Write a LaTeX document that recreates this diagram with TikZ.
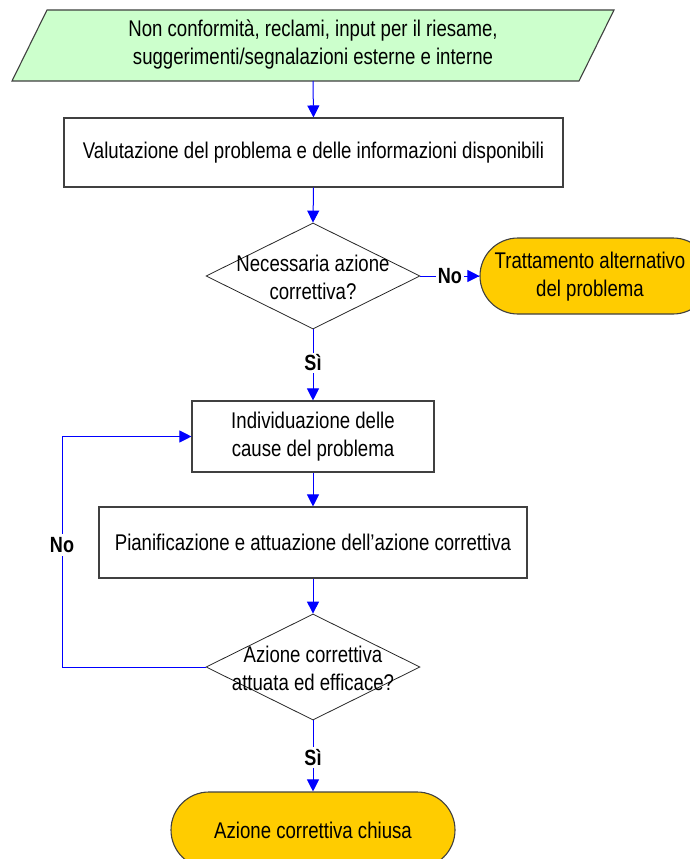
\documentclass[tikz,border=0pt]{standalone}
\usepackage{fontspec}
\setmainfont[FakeStretch=0.82]{Liberation Sans}
\usetikzlibrary{arrows.meta,shapes.geometric}
\definecolor{inputgreen}{HTML}{CCFFCC}
\definecolor{termgold}{HTML}{FFCC00}
\begin{document}
\begin{tikzpicture}[x=1pt,y=-1pt,
  font=\fontsize{22.7}{28}\selectfont,
  flow/.style={draw=blue, line width=1pt, -{Triangle[length=12pt,width=12pt]}},
  link/.style={draw=blue, line width=1pt},
  outline/.style={draw=black!75, line width=1.1pt},
  procbox/.style={outline, fill=white, align=center, inner sep=0pt},
  decision/.style={diamond, draw=black!85, line width=0.8pt, inner sep=0pt,
    minimum width=214pt, minimum height=106pt},
  terminal/.style={outline, fill=termgold, align=center, inner sep=0pt,
    rounded corners=38pt, minimum height=76pt},
  plain/.style={align=center, inner sep=0pt},
  answer/.style={font=\fontsize{22}{27}\selectfont\bfseries, fill=white, inner sep=2pt}
]
\useasboundingbox (0,0) rectangle (689,859);

% input parallelogram
\coordinate (inTL) at (47,10);
\coordinate (inTR) at (614,10);
\coordinate (inBR) at (579,81);
\coordinate (inBL) at (12,81);
\filldraw[outline, fill=inputgreen] (inTL) -- (inTR) -- (inBR) -- (inBL) -- cycle;
\node[plain, minimum height=71pt] (input) at (313,44.5)
  {Non conformità, reclami, input per il riesame,\\suggerimenti/segnalazioni esterne e interne};

% process steps
\node[procbox, minimum width=499pt, minimum height=69pt] (valuta) at (313.5,152.5)
  {Valutazione del problema e delle informazioni disponibili};

\node[decision] (dec1) at (313,276) {};
\node[plain] (dec1txt) at (313,277) {Necessaria azione\\correttiva?};

\node[terminal, minimum width=231pt] (altro) at (595.5,276) {};
\node[plain] (altrotxt) at (590,277) {Trattamento alternativo\\del problema};

\node[procbox, minimum width=242pt, minimum height=71pt] (cause) at (313,436.5)
  {Individuazione delle\\cause del problema};

\node[procbox, minimum width=428pt, minimum height=71pt] (piano) at (313,542.5)
  {Pianificazione e attuazione dell’azione correttiva};

\node[decision] (dec2) at (313,667) {};
\node[plain] (dec2txt) at (313,668) {Azione correttiva\\attuata ed efficace?};

\node[terminal, minimum width=284pt] (chiusa) at (313,830) {Azione correttiva chiusa};

% connectors
\draw[flow] (inBL -| input.south) -- (valuta.north);
\draw[flow] (valuta.south) -- (dec1.north);
\draw[link] (dec1.east) -- node[answer, pos=0.5] (no1) {No} (altro.west);
\draw[flow] (no1.east) -- (altro.west);
\draw[flow] (dec1.south) -- node[answer, pos=0.47] (si1) {Sì} (cause.north);
\draw[flow] (cause.south) -- (piano.north);
\draw[flow] (piano.south) -- (dec2.north);
\coordinate (loopB) at (62,667);
\coordinate (loopT) at (62,436.5);
\draw[link] (dec2.west) -- (loopB) -- node[answer, pos=0.53, inner sep=3pt] (no2) {No} (loopT);
\draw[flow] (loopT) -- (cause.west);
\draw[flow] (dec2.south) -- node[answer, pos=0.52] (si2) {Sì} (chiusa.north);
\end{tikzpicture}
\end{document}
